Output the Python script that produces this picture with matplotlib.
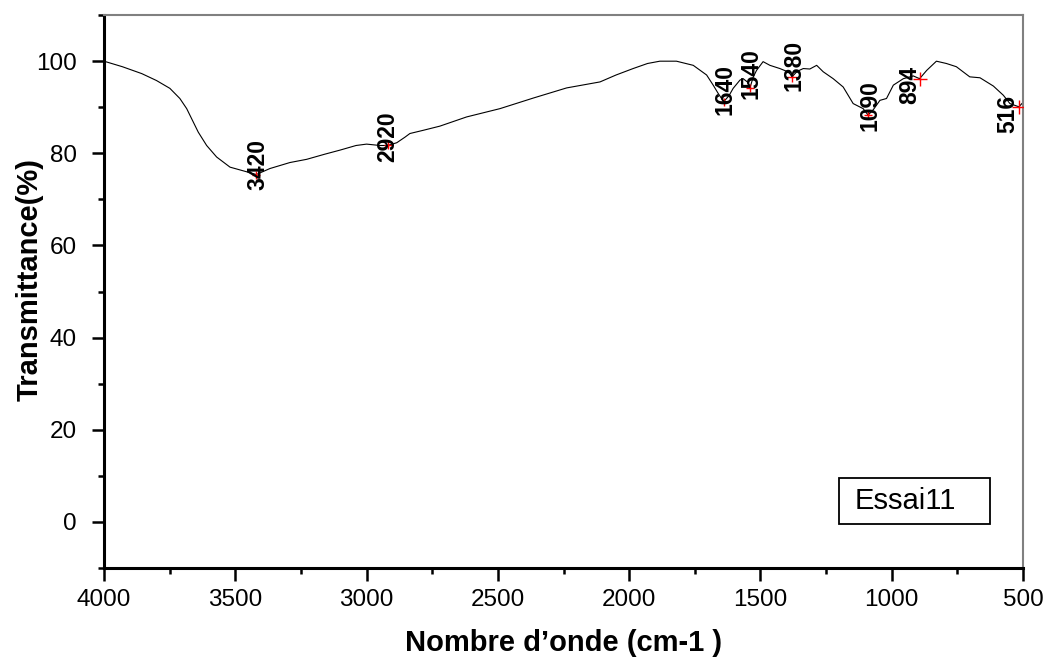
import numpy as np
import matplotlib
matplotlib.use("Agg")
import matplotlib.pyplot as plt
from matplotlib.patches import Rectangle
from matplotlib.ticker import MultipleLocator

plt.rcParams['font.family'] = ['Liberation Sans', 'DejaVu Sans']

# FTIR spectrum of sample Essai11
wavenumber = [4000, 3930, 3856, 3800, 3749, 3711, 3685, 3660, 3641, 3609,
              3571, 3520, 3457, 3420, 3368, 3292, 3228, 3160, 3101, 3040,
              3000, 2949, 2920, 2885, 2854, 2835, 2784, 2721, 2619, 2492,
              2365, 2238, 2111, 2050, 1985, 1930, 1883, 1820, 1756, 1705,
              1680, 1661, 1640, 1620, 1604, 1578, 1566, 1550, 1540, 1528,
              1515, 1490, 1464, 1426, 1400, 1388, 1380, 1360, 1337, 1312,
              1286, 1261, 1223, 1185, 1147, 1109, 1090, 1070, 1045, 1020,
              994, 956, 918, 894, 867, 830, 792, 754, 703, 664,
              613, 575, 550, 516, 501]
transmittance = [100.0, 98.8, 97.3, 95.8, 94.1, 91.9, 89.7, 86.8, 84.6, 81.7,
                 79.2, 77.0, 76.0, 75.4, 76.7, 78.0, 78.7, 79.8, 80.7, 81.7,
                 82.0, 81.7, 81.7, 82.3, 83.5, 84.3, 85.0, 85.9, 87.9, 89.7,
                 92.0, 94.2, 95.5, 97.0, 98.4, 99.5, 100.0, 100.0, 99.1, 97.0,
                 94.8, 93.0, 91.2, 92.5, 94.1, 95.9, 96.2, 95.5, 94.2, 96.5,
                 98.0, 99.9, 99.1, 98.4, 97.8, 97.3, 96.6, 97.8, 98.4, 98.3,
                 99.1, 97.7, 96.2, 94.4, 90.8, 89.7, 88.3, 89.5, 91.5, 91.9,
                 94.8, 96.2, 96.8, 96.2, 98.0, 100.0, 99.5, 98.8, 96.6, 96.4,
                 94.6, 92.6, 90.8, 90.1, 91.0]

# Labelled absorption bands
peaks = [3420, 2920, 1640, 1540, 1380, 1090, 894, 516]
peak_labels = ["3420", "2920", "1640", "1540", "1380", "1090", "894", "516"]

# label placement (points) and marker size for each band
label_offsets = [(1, 7), (0, 6), (1, 9), (1, 10), (1.5, 8.5), (1, 6.5), (-7, -4.7), (-8, -5)]
marker_sizes = [6, 6, 6, 6, 7, 6, 10, 10]

fig = plt.figure(figsize=(10.45, 6.57), dpi=100)
ax = fig.add_axes([0.0995, 0.1355, 0.8795, 0.8415])

ax.plot(wavenumber, transmittance, color='black', lw=0.8)

wn_asc = np.array(wavenumber[::-1], dtype=float)
tr_asc = np.array(transmittance[::-1], dtype=float)
for p, lab, off, ms in zip(peaks, peak_labels, label_offsets, marker_sizes):
    yv = np.interp(p, wn_asc, tr_asc)
    ax.plot([p], [yv], marker='+', color='red', ms=ms, mew=1.0, zorder=3)
    ax.annotate(lab, xy=(p, yv), xytext=off, textcoords='offset points',
                rotation=90, ha='center', va='center', fontsize=16.5,
                fontweight='bold', color='black', zorder=4)

ax.set_xlim(4000, 500)
ax.set_ylim(-10, 110)
ax.xaxis.set_major_locator(MultipleLocator(500))
ax.xaxis.set_minor_locator(MultipleLocator(250))
ax.yaxis.set_major_locator(MultipleLocator(20))
ax.yaxis.set_minor_locator(MultipleLocator(10))
ax.set_yticks(range(0, 101, 20))

ax.tick_params(which='major', direction='out', length=9, width=1.8,
               labelsize=17.5, top=False, right=False)
ax.tick_params(axis='x', which='major', pad=6)
ax.tick_params(axis='y', which='major', pad=10.5)
ax.tick_params(which='minor', direction='out', length=4.5, width=1.8,
               top=False, right=False)

for side in ('left', 'bottom'):
    ax.spines[side].set_linewidth(2.2)
    ax.spines[side].set_color('black')
for side in ('top', 'right'):
    ax.spines[side].set_linewidth(1.5)
    ax.spines[side].set_color('#808080')

ax.set_xlabel("Nombre d\u2019onde (cm-1 )", fontsize=21, fontweight='bold', labelpad=13)
ax.set_ylabel("Transmittance(%)", fontsize=21, fontweight='bold')
ax.yaxis.set_label_coords(-0.066, 0.5226)

# sample name box
ax.add_patch(Rectangle((0.7998, 0.0796), 0.1643, 0.0831, transform=ax.transAxes,
                       fc='white', ec='black', lw=1.3, zorder=5))
ax.text(0.8172, 0.121, "Essai11", transform=ax.transAxes, ha='left', va='center',
        fontsize=21, zorder=6)

fig.savefig("out.png", dpi=100)
